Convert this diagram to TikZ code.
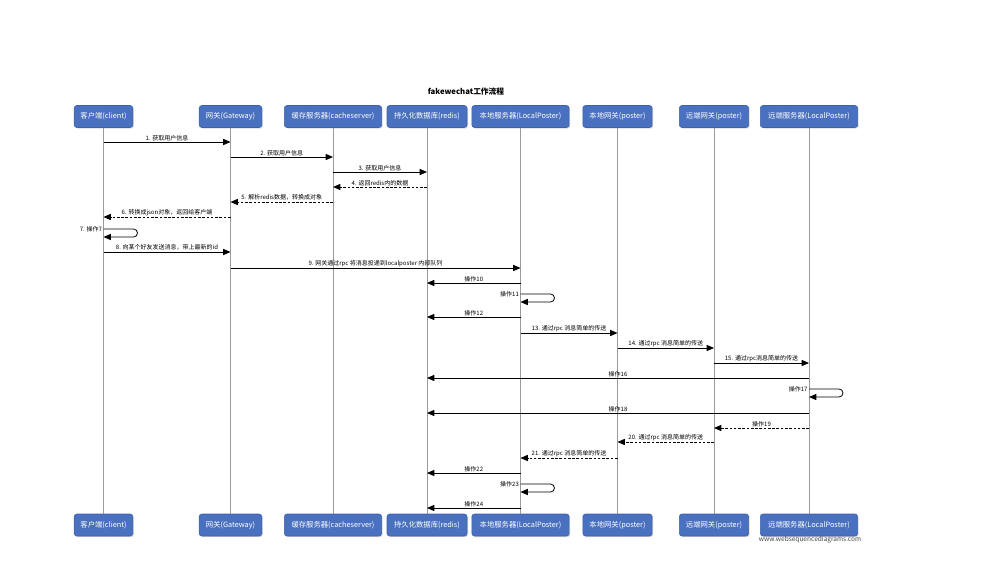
\documentclass[tikz,border=0pt]{standalone}
\usepackage{fontspec}
\setmainfont{Noto Sans CJK SC}
\usepackage{tikz}
\usetikzlibrary{arrows.meta,shadows}
\definecolor{wsd-blue}{HTML}{4A70C0}
\definecolor{wsd-edge}{HTML}{3D62A6}
\definecolor{wsd-life}{HTML}{9A9A9A}

\begin{document}
\begin{tikzpicture}[
  x=0.75pt, y=-0.75pt,
  font=\fontsize{4.5}{5}\selectfont,
  actor/.style={rectangle, draw=wsd-edge, line width=0.4pt, rounded corners=2pt, fill=wsd-blue, text=white, minimum height=16.5pt, inner sep=1pt, font=\fontsize{5.5}{6}\selectfont, drop shadow={shadow xshift=0.8pt, shadow yshift=-0.8pt, opacity=0.3}},
  life/.style={line width=0.75pt, wsd-life},
  msg/.style={-{Triangle[length=5.5pt,width=4.6pt]}, line width=0.6pt},
  reply/.style={msg, dash pattern=on 2pt off 1.2pt},
  lbl/.style={above=0pt, inner sep=0.8pt},
  selflbl/.style={anchor=east, inner sep=1pt}
]
  \useasboundingbox (0,0) rectangle (981,578);

  \node[font=\bfseries\fontsize{5.8}{6}\selectfont] (title) at (466,92) {fakewechat工作流程};

  % participants, top and bottom
  \node[actor, minimum width=44pt] (client) at (103.5,116.5) {客户端(client)};
  \node[actor, minimum width=47pt] (gw)     at (230.5,116.5) {网关(Gateway)};
  \node[actor, minimum width=73pt] (cache)  at (333,116.5)   {缓存服务器(cacheserver)};
  \node[actor, minimum width=60pt] (redis)  at (427,116.5)   {持久化数据库(redis)};
  \node[actor, minimum width=73pt] (lp)     at (520.5,116.5) {本地服务器(LocalPoster)};
  \node[actor, minimum width=52pt] (lgw)    at (617.5,116.5) {本地网关(poster)};
  \node[actor, minimum width=52pt] (rgw)    at (714,116.5)   {远端网关(poster)};
  \node[actor, minimum width=73pt] (rsv)    at (809,116.5)   {远端服务器(LocalPoster)};

  \node[actor, minimum width=44pt] (client-b) at (103.5,525) {客户端(client)};
  \node[actor, minimum width=47pt] (gw-b)     at (230.5,525) {网关(Gateway)};
  \node[actor, minimum width=73pt] (cache-b)  at (333,525)   {缓存服务器(cacheserver)};
  \node[actor, minimum width=60pt] (redis-b)  at (427,525)   {持久化数据库(redis)};
  \node[actor, minimum width=73pt] (lp-b)     at (520.5,525) {本地服务器(LocalPoster)};
  \node[actor, minimum width=52pt] (lgw-b)    at (617.5,525) {本地网关(poster)};
  \node[actor, minimum width=52pt] (rgw-b)    at (714,525)   {远端网关(poster)};
  \node[actor, minimum width=73pt] (rsv-b)    at (809,525)   {远端服务器(LocalPoster)};

  \node[font=\fontsize{4.9}{5}\selectfont, text=black!75] (wsd) at (810,540) {www.websequencediagrams.com};

  % lifelines
  \draw[life] (client) -- (client-b);
  \draw[life] (gw) -- (gw-b);
  \draw[life] (cache) -- (cache-b);
  \draw[life] (redis) -- (redis-b);
  \draw[life] (lp) -- (lp-b);
  \draw[life] (lgw) -- (lgw-b);
  \draw[life] (rgw) -- (rgw-b);
  \draw[life] (rsv) -- (rsv-b);

  % message rows
  \foreach \yy [count=\i] in {142,157,172,187,202,217,229,252,268,283,294,317,333,348,363,378,389,413,428,442,458,473,484,508}
    \coordinate (m\i) at (0,\yy);
  \coordinate (r7) at (0,237);
  \coordinate (r11) at (0,302);
  \coordinate (r17) at (0,397);
  \coordinate (r23) at (0,492);

  \draw[msg] (client |- m1) -- (gw |- m1) node[lbl, midway] {1. 获取用户信息};
  \draw[msg] (gw |- m2) -- (cache |- m2) node[lbl, midway] {2. 获取用户信息};
  \draw[msg] (cache |- m3) -- (redis |- m3) node[lbl, midway] {3. 获取用户信息};
  \draw[reply] (redis |- m4) -- (cache |- m4) node[lbl, midway] {4. 返回redis内的数据};
  \draw[reply] (cache |- m5) -- (gw |- m5) node[lbl, midway] {5. 解析redis数据，转换成对象};
  \draw[reply] (gw |- m6) -- (client |- m6) node[lbl, midway] {6. 转换成json对象，返回给客户端};
  \draw[msg, rounded corners=3pt] (client |- m7) -- ++(34,0) |- (client |- r7);
  \node[selflbl] (l7) at (client |- m7) {7. 操作7};
  \draw[msg] (client |- m8) -- (gw |- m8) node[lbl, midway] {8. 向某个好友发送消息，带上最新的id};
  \draw[msg] (gw |- m9) -- (lp |- m9) node[lbl, midway] {9. 网关通过rpc 将消息投递到localposter 内部队列};
  \draw[msg] (lp |- m10) -- (redis |- m10) node[lbl, midway] {操作10};
  \draw[msg, rounded corners=3pt] (lp |- m11) -- ++(34,0) |- (lp |- r11);
  \node[selflbl] (l11) at (lp |- m11) {操作11};
  \draw[msg] (lp |- m12) -- (redis |- m12) node[lbl, midway] {操作12};
  \draw[msg] (lp |- m13) -- (lgw |- m13) node[lbl, midway] {13. 通过rpc 消息简单的传送};
  \draw[msg] (lgw |- m14) -- (rgw |- m14) node[lbl, midway] {14. 通过rpc 消息简单的传送};
  \draw[msg] (rgw |- m15) -- (rsv |- m15) node[lbl, midway] {15. 通过rpc消息简单的传送};
  \draw[msg] (rsv |- m16) -- (redis |- m16) node[lbl, midway] {操作16};
  \draw[msg, rounded corners=3pt] (rsv |- m17) -- ++(34,0) |- (rsv |- r17);
  \node[selflbl] (l17) at (rsv |- m17) {操作17};
  \draw[msg] (rsv |- m18) -- (redis |- m18) node[lbl, midway] {操作18};
  \draw[reply] (rsv |- m19) -- (rgw |- m19) node[lbl, midway] {操作19};
  \draw[reply] (rgw |- m20) -- (lgw |- m20) node[lbl, midway] {20. 通过rpc 消息简单的传送};
  \draw[reply] (lgw |- m21) -- (lp |- m21) node[lbl, midway] {21. 通过rpc 消息简单的传送};
  \draw[msg] (lp |- m22) -- (redis |- m22) node[lbl, midway] {操作22};
  \draw[msg, rounded corners=3pt] (lp |- m23) -- ++(34,0) |- (lp |- r23);
  \node[selflbl] (l23) at (lp |- m23) {操作23};
  \draw[msg] (lp |- m24) -- (redis |- m24) node[lbl, midway] {操作24};
\end{tikzpicture}
\end{document}
